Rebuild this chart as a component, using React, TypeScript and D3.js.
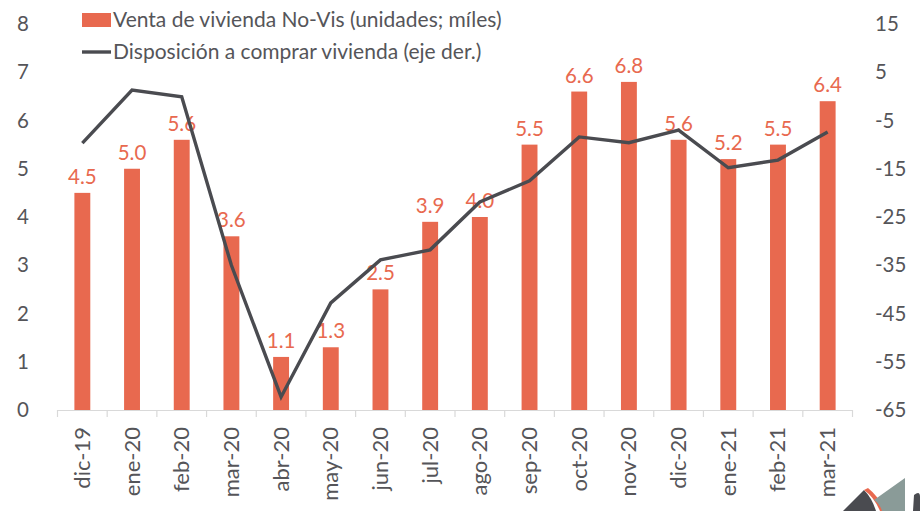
import { useEffect, useRef } from 'react';
import * as d3 from 'd3';

const months = ['dic-19', 'ene-20', 'feb-20', 'mar-20', 'abr-20', 'may-20', 'jun-20', 'jul-20', 'ago-20', 'sep-20', 'oct-20', 'nov-20', 'dic-20', 'ene-21', 'feb-21', 'mar-21'];
const ventas = [4.5, 5.0, 5.6, 3.6, 1.1, 1.3, 2.5, 3.9, 4.0, 5.5, 6.6, 6.8, 5.6, 5.2, 5.5, 6.4];
const disposicion = [-9.7, 1.3, -0.1, -35, -62.3, -42.8, -33.9, -31.8, -21.9, -17.5, -8.4, -9.6, -7, -14.8, -13.2, -7.4];
const leftTicks = [0, 1, 2, 3, 4, 5, 6, 7, 8];
const rightTicks = [15, 5, -5, -15, -25, -35, -45, -55, -65];

const W = 920;
const H = 511;
const BAR = '#E8694F';
const LINE = '#4A4B50';
const TEXT = '#555559';
const FONT = 'Lato, "Open Sans", sans-serif';

const App = () => {
  const svgRef = useRef<SVGSVGElement>(null);

  useEffect(() => {
    if (!svgRef.current) return;
    const svg = d3.select(svgRef.current);
    svg.selectAll('*').remove();

    const x = d3.scaleBand().domain(months).range([57.5, 852.5]).paddingInner(0.68).paddingOuter(0.34);
    const y = d3.scaleLinear().domain([0, 8]).range([410, 24]);
    const y2 = d3.scaleLinear().domain([-65, 15]).range([410, 24]);
    const band = x.step();

    // bars
    svg.append('g')
      .selectAll('rect')
      .data(ventas)
      .enter()
      .append('rect')
      .attr('x', (d, i) => x(months[i])!)
      .attr('y', d => y(d))
      .attr('width', x.bandwidth())
      .attr('height', d => y(0) - y(d))
      .attr('fill', BAR);

    // bar labels
    svg.append('g')
      .selectAll('text')
      .data(ventas)
      .enter()
      .append('text')
      .attr('x', (d, i) => x(months[i])! + x.bandwidth() / 2)
      .attr('y', d => y(d) - 9)
      .attr('text-anchor', 'middle')
      .attr('fill', BAR)
      .style('font-family', FONT)
      .style('font-size', '20.5px')
      .text(d => d.toFixed(1));

    // x axis
    const ax = svg.append('g');
    ax.append('line')
      .attr('x1', 57.5).attr('x2', 852.5)
      .attr('y1', 410.5).attr('y2', 410.5)
      .attr('stroke', '#D9D9D9').attr('stroke-width', 1.2);
    ax.selectAll('line.tick')
      .data(d3.range(months.length + 1))
      .enter()
      .append('line')
      .attr('class', 'tick')
      .attr('x1', i => 57.5 + i * band)
      .attr('x2', i => 57.5 + i * band)
      .attr('y1', 410).attr('y2', 417)
      .attr('stroke', '#D9D9D9').attr('stroke-width', 1.2);
    ax.selectAll('text')
      .data(months)
      .enter()
      .append('text')
      .attr('transform', d => `translate(${x(d)! + x.bandwidth() / 2 + 7.5}, 427) rotate(-90)`)
      .attr('text-anchor', 'end')
      .attr('fill', TEXT)
      .style('font-family', FONT)
      .style('font-size', '22px')
      .text(d => d);

    // line
    const line = d3.line<number>()
      .x((d, i) => x(months[i])! + x.bandwidth() / 2)
      .y(d => y2(d));
    svg.append('path')
      .datum(disposicion)
      .attr('d', line)
      .attr('fill', 'none')
      .attr('stroke', LINE)
      .attr('stroke-width', 3.4)
      .attr('stroke-linejoin', 'miter');

    // left axis labels
    svg.append('g')
      .selectAll('text')
      .data(leftTicks)
      .enter()
      .append('text')
      .attr('x', 17)
      .attr('y', d => y(d) + 7)
      .attr('fill', TEXT)
      .style('font-family', FONT)
      .style('font-size', '20.5px')
      .text(d => d);

    // right axis labels
    svg.append('g')
      .selectAll('text')
      .data(rightTicks)
      .enter()
      .append('text')
      .attr('x', 875)
      .attr('y', d => y2(d) + 7)
      .attr('fill', TEXT)
      .style('font-family', FONT)
      .style('font-size', '20.5px')
      .text(d => d);

    // legend
    const lg = svg.append('g');
    lg.append('rect').attr('x', 82).attr('y', 13).attr('width', 29).attr('height', 14).attr('fill', BAR);
    lg.append('text').attr('x', 113).attr('y', 27).attr('fill', TEXT)
      .style('font-family', FONT).style('font-size', '21px')
      .text('Venta de vivienda No-Vis (unidades; míles)');
    lg.append('line').attr('x1', 82).attr('x2', 111).attr('y1', 52).attr('y2', 52)
      .attr('stroke', LINE).attr('stroke-width', 3.4);
    lg.append('text').attr('x', 113).attr('y', 59).attr('fill', TEXT)
      .style('font-family', FONT).style('font-size', '21px')
      .text('Disposición a comprar vivienda (eje der.)');

    // corner logo
    const logo = svg.append('g');
    logo.append('path').attr('d', 'M843,511 L864,490 Q872,498 876,511 Z').attr('fill', '#4A4B50');
    logo.append('path').attr('d', 'M864,490 Q874,497 880,511 L886,511 Q878,496 868,488 Z').attr('fill', BAR);
    logo.append('path').attr('d', 'M874,500 L905,478 L905,511 L882,511 Q880,504 874,500 Z').attr('fill', '#8A9B98');
    logo.append('path').attr('d', 'M914,495 Q920,490 920,497 L920,511 L913,511 Z').attr('fill', '#4A4B50');
  }, []);

  return (
    <div style={{ position: 'fixed', left: 0, top: 0, background: '#fff' }}>
      <svg ref={svgRef} width={W} height={H} style={{ display: 'block' }} />
    </div>
  );
};

export default App;
